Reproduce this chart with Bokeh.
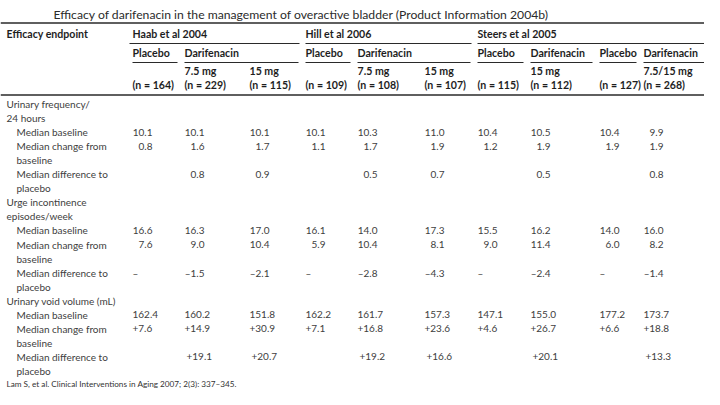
from bokeh.plotting import figure
from bokeh.models import Range1d, ColumnDataSource
from bokeh.core.properties import value
from bokeh.embed import file_html
from bokeh.resources import INLINE

# ---------------- data ----------------
title = "Efficacy of darifenacin in the management of overactive bladder (Product Information 2004b)"
footer = "Lam S, et al. Clinical Interventions in Aging 2007; 2(3): 337\u2013345."
first_header = "Efficacy endpoint"

studies = ["Haab et al 2004", "Hill et al 2006", "Steers et al 2005"]
study_cols = [(0, 2), (3, 5), (6, 9)]
arms = ["Placebo", "Darifenacin", "Placebo", "Darifenacin",
        "Placebo", "Darifenacin", "Placebo", "Darifenacin"]
arm_cols = [(0, 0), (1, 2), (3, 3), (4, 5), (6, 6), (7, 7), (8, 8), (9, 9)]
doses = ["", "7.5 mg", "15 mg", "", "7.5 mg", "15 mg", "", "15 mg", "", "7.5/15 mg"]
n_patients = [164, 229, 115, 109, 108, 107, 115, 112, 127, 268]

freq_baseline = [10.1, 10.1, 10.1, 10.1, 10.3, 11.0, 10.4, 10.5, 10.4, 9.9]
freq_change = [0.8, 1.6, 1.7, 1.1, 1.7, 1.9, 1.2, 1.9, 1.9, 1.9]
freq_diff = [None, 0.8, 0.9, None, 0.5, 0.7, None, 0.5, None, 0.8]

urge_baseline = [16.6, 16.3, 17.0, 16.1, 14.0, 17.3, 15.5, 16.2, 14.0, 16.0]
urge_change = [7.6, 9.0, 10.4, 5.9, 10.4, 8.1, 9.0, 11.4, 6.0, 8.2]
urge_diff = [None, -1.5, -2.1, None, -2.8, -4.3, None, -2.4, None, -1.4]

void_baseline = [162.4, 160.2, 151.8, 162.2, 161.7, 157.3, 147.1, 155.0, 177.2, 173.7]
void_change = [7.6, 14.9, 30.9, 7.1, 16.8, 23.6, 4.6, 26.7, 6.6, 18.8]
void_diff = [None, 19.1, 20.7, None, 19.2, 16.6, None, 20.1, None, 13.3]

sections = [
    (["Urinary frequency/", "24 hours"], [
        (["Median baseline"], freq_baseline, False, "dec", None),
        (["Median change from", "baseline"], freq_change, False, "dec", None),
        (["Median difference to", "placebo"], freq_diff, False, "dec", None),
    ]),
    (["Urge incontinence", "episodes/week"], [
        (["Median baseline"], urge_baseline, False, "dec", None),
        (["Median change from", "baseline"], urge_change, False, "dec", None),
        (["Median difference to", "placebo"], urge_diff, False, "dec", "\u2013"),
    ]),
    (["Urinary void volume (mL)"], [
        (["Median baseline"], void_baseline, False, "left", None),
        (["Median change from", "baseline"], void_change, True, "left", None),
        (["Median difference to", "placebo"], void_diff, True, "left2", None),
    ]),
]

# ---------------- layout ----------------
W, H = 704, 389
col_x = [132, 184, 249, 305, 357, 424, 477, 530, 599, 643]
right_edge = W
dec_w = 20
FONT = "Lato"
HEAD_FONT = "Lato"
HEAD_C = "#1e1e1e"
BODY_C = "#404040"
RULE_C = "#2a2a2a"
HEAD_SIZE = "10.6px"

p = figure(width=W, height=H, x_range=Range1d(0, W), y_range=Range1d(H, 0),
           output_backend="svg", toolbar_location=None, min_border=0,
           x_axis_location=None, y_axis_location=None)
p.grid.visible = False
p.outline_line_color = None
p.background_fill_color = "white"
p.border_fill_color = "white"


def add_text(xs, ys, texts, size, bold=False, color=BODY_C, align="left", font=FONT):
    src = ColumnDataSource(dict(x=xs, y=ys, t=texts))
    p.text(x="x", y="y", text="t", source=src, text_font=value(font),
           text_font_size=value(size), text_font_style="bold" if bold else "normal",
           text_color=color, text_align=align, text_baseline="middle")


def fmt(v, sign):
    s = "%.1f" % abs(v)
    if v < 0:
        return "\u2013" + s
    if sign:
        return "+" + s
    return s


# title
add_text([53], [14], [title], "12.2px", color="#2b2b2b")

# rules
p.segment(x0=[0, 0], y0=[22.5, 94.5], x1=[right_edge, right_edge], y1=[22.5, 94.5],
          line_color=RULE_C, line_width=1.6)

# header row 1
hx = [6] + [col_x[a] for a, b in study_cols]
add_text(hx, [33] * len(hx), [first_header] + studies, HEAD_SIZE, bold=True, color=HEAD_C, font=HEAD_FONT)
sx0, sx1 = [], []
for i, (a, b) in enumerate(study_cols):
    sx0.append(col_x[a] - 3 if i == 0 else col_x[a])
    sx1.append(col_x[study_cols[i + 1][0]] - 6 if i + 1 < len(study_cols) else right_edge)
p.segment(x0=sx0, y0=[43] * 3, x1=sx1, y1=[43] * 3, line_color=RULE_C, line_width=1.1)

# header row 2
add_text([col_x[a] for a, b in arm_cols], [52] * len(arms), arms, HEAD_SIZE, bold=True,
         color=HEAD_C, font=HEAD_FONT)
ax0, ax1 = [], []
for i, (a, b) in enumerate(arm_cols):
    ax0.append(col_x[a])
    ax1.append(col_x[arm_cols[i + 1][0]] - 7 if i + 1 < len(arm_cols) else right_edge)
p.segment(x0=ax0, y0=[62] * len(ax0), x1=ax1, y1=[62] * len(ax0), line_color=RULE_C, line_width=1.1)

# header rows 3 & 4
dx = [col_x[i] for i, d in enumerate(doses) if d]
add_text(dx, [70.5] * len(dx), [d for d in doses if d], HEAD_SIZE, bold=True, color=HEAD_C, font=HEAD_FONT)
add_text(col_x, [84.5] * len(col_x), ["(n = %d)" % n for n in n_patients], HEAD_SIZE, bold=True,
         color=HEAD_C, font=HEAD_FONT)

# body
y0, dy = 103.5, 14.05
line = 0
lab_x, lab_y, lab_t = [], [], []
vl_x, vl_y, vl_t = [], [], []
vr_x, vr_y, vr_t = [], [], []
for sec_lines, measures in sections:
    for s in sec_lines:
        lab_x.append(6); lab_y.append(y0 + dy * line); lab_t.append(s)
        line += 1
    for lab_lines, vals, sign, mode, blank in measures:
        yv = y0 + dy * line
        for k, s in enumerate(lab_lines):
            lab_x.append(16); lab_y.append(y0 + dy * (line + k)); lab_t.append(s)
        for c, v in enumerate(vals):
            if v is None:
                if blank:
                    vl_x.append(col_x[c]); vl_y.append(yv); vl_t.append(blank)
                continue
            t = fmt(v, sign)
            if mode == "dec":
                vr_x.append(col_x[c] + dec_w); vr_y.append(yv); vr_t.append(t)
            elif mode == "left2":
                vl_x.append(col_x[c] + 2); vl_y.append(yv); vl_t.append(t)
            else:
                vl_x.append(col_x[c]); vl_y.append(yv); vl_t.append(t)
        line += len(lab_lines)

add_text(lab_x, lab_y, lab_t, "10px")
add_text(vl_x, vl_y, vl_t, "10px")
add_text(vr_x, vr_y, vr_t, "10px", align="right")

# footer
add_text([6], [383.5], [footer], "8.2px", color="#333333")

open("out.html", "w").write(file_html(p, INLINE))
